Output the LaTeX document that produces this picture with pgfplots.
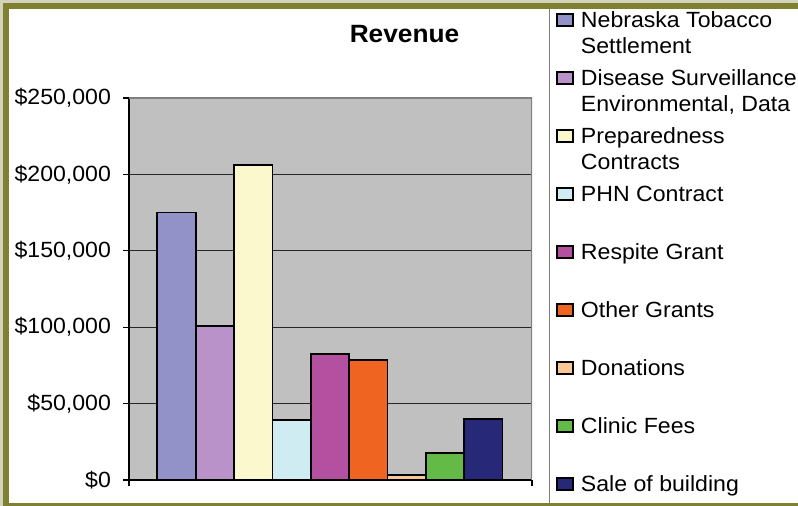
\documentclass[border=0pt]{standalone}
\usepackage{fontspec}
\setmainfont{Liberation Sans}[FakeStretch=1.05]
\usepackage{pgfplots}
\pgfplotsset{compat=1.18}
\definecolor{c1}{RGB}{146,146,200}
\definecolor{c2}{RGB}{184,146,200}
\definecolor{c3}{RGB}{250,248,204}
\definecolor{c4}{RGB}{206,236,242}
\definecolor{c5}{RGB}{180,80,160}
\definecolor{c6}{RGB}{240,100,34}
\definecolor{c7}{RGB}{250,200,150}
\definecolor{c8}{RGB}{100,186,70}
\definecolor{c9}{RGB}{40,40,120}
\definecolor{plotgray}{RGB}{192,192,192}
\definecolor{olive}{RGB}{128,128,50}
\definecolor{photo}{RGB}{212,212,188}
\definecolor{sepgray}{RGB}{128,128,128}
\pgfplotsset{myleg/.style={legend image code/.code={\draw[##1] (0pt,0.6pt) rectangle (8pt,6.6pt);}}}
\begin{document}
\begin{tikzpicture}
\path[use as bounding box] (0,0) rectangle (399pt,253pt);
\fill[white] (0,0) rectangle (399pt,253pt);
\fill[photo] (0,251.5pt) rectangle (399pt,253pt);
\fill[photo] (0,0) rectangle (1.5pt,253pt);
\fill[olive] (1.5pt,248.5pt) rectangle (399pt,251.5pt);
\fill[olive] (1.5pt,0) rectangle (4.35pt,251.5pt);
\fill[olive] (1.5pt,0) rectangle (399pt,1.5pt);
\draw[sepgray, line width=0.75pt] (274.75pt,1.5pt) -- (274.75pt,248.5pt);
\node[anchor=base, font=\bfseries\fontsize{12.5}{14}\selectfont] at (202.25pt,231.65pt) {Revenue};
\begin{axis}[
  at={(64.5pt,13pt)}, anchor=south west,
  scale only axis, width=201.5pt, height=191pt,
  ybar, bar width=1, bar shift=0pt,
  xmin=-1.24, xmax=9.27, ymin=0, ymax=250000,
  axis x line=bottom, axis y line=left,
  axis line style={-, black, line width=0.8pt},
  xtick={-1.24,9.27}, xticklabels={{},{}},
  ytick={0,50000,100000,150000,200000,250000},
  yticklabels={{\$0},{\$50,000},{\$100,000},{\$150,000},{\$200,000},{\$250,000}},
  scaled y ticks=false,
  tick align=outside, major tick length=3pt,
  tick style={black, line width=0.6pt},
  ymajorgrids, grid style={black!85, line width=0.5pt},
  axis background/.style={fill=plotgray},
  ticklabel style={font=\fontsize{11}{13}\selectfont},
  yticklabel style={xshift=-2.5pt},
  legend style={at={(1.060,1.2277)}, anchor=north west, draw=none, fill=none,
    inner sep=0pt, outer sep=0pt, row sep=19pt, column sep=3.5pt,
    nodes={inner sep=0pt, text height=8pt, text depth=2pt, font=\fontsize{11}{13}\selectfont},
    cells={anchor=base west}},
  every axis plot/.append style={draw=black, line width=0.9pt},
]
\addplot[fill=c1, myleg] coordinates {(0,175000)};
\addlegendentry{\begin{tabular}[t]{@{}l@{}}Nebraska Tobacco\\Settlement\end{tabular}}
\addplot[fill=c2, myleg] coordinates {(1,101000)};
\addlegendentry{\begin{tabular}[t]{@{}l@{}}Disease Surveillance\\Environmental, Data\end{tabular}}
\addplot[fill=c3, myleg] coordinates {(2,206000)};
\addlegendentry{\begin{tabular}[t]{@{}l@{}}Preparedness\\Contracts\end{tabular}}
\addplot[fill=c4, myleg] coordinates {(3,39000)};
\addlegendentry{PHN Contract}
\addplot[fill=c5, myleg] coordinates {(4,82500)};
\addlegendentry{Respite Grant}
\addplot[fill=c6, myleg] coordinates {(5,78600)};
\addlegendentry{Other Grants}
\addplot[fill=c7, myleg] coordinates {(6,3500)};
\addlegendentry{Donations}
\addplot[fill=c8, myleg] coordinates {(7,17500)};
\addlegendentry{Clinic Fees}
\addplot[fill=c9, myleg] coordinates {(8,40000)};
\addlegendentry{Sale of building}
\draw[sepgray, line width=0.6pt] (rel axis cs:0,1) -- (rel axis cs:1,1) -- (rel axis cs:1,0);
\end{axis}
\end{tikzpicture}
\end{document}
